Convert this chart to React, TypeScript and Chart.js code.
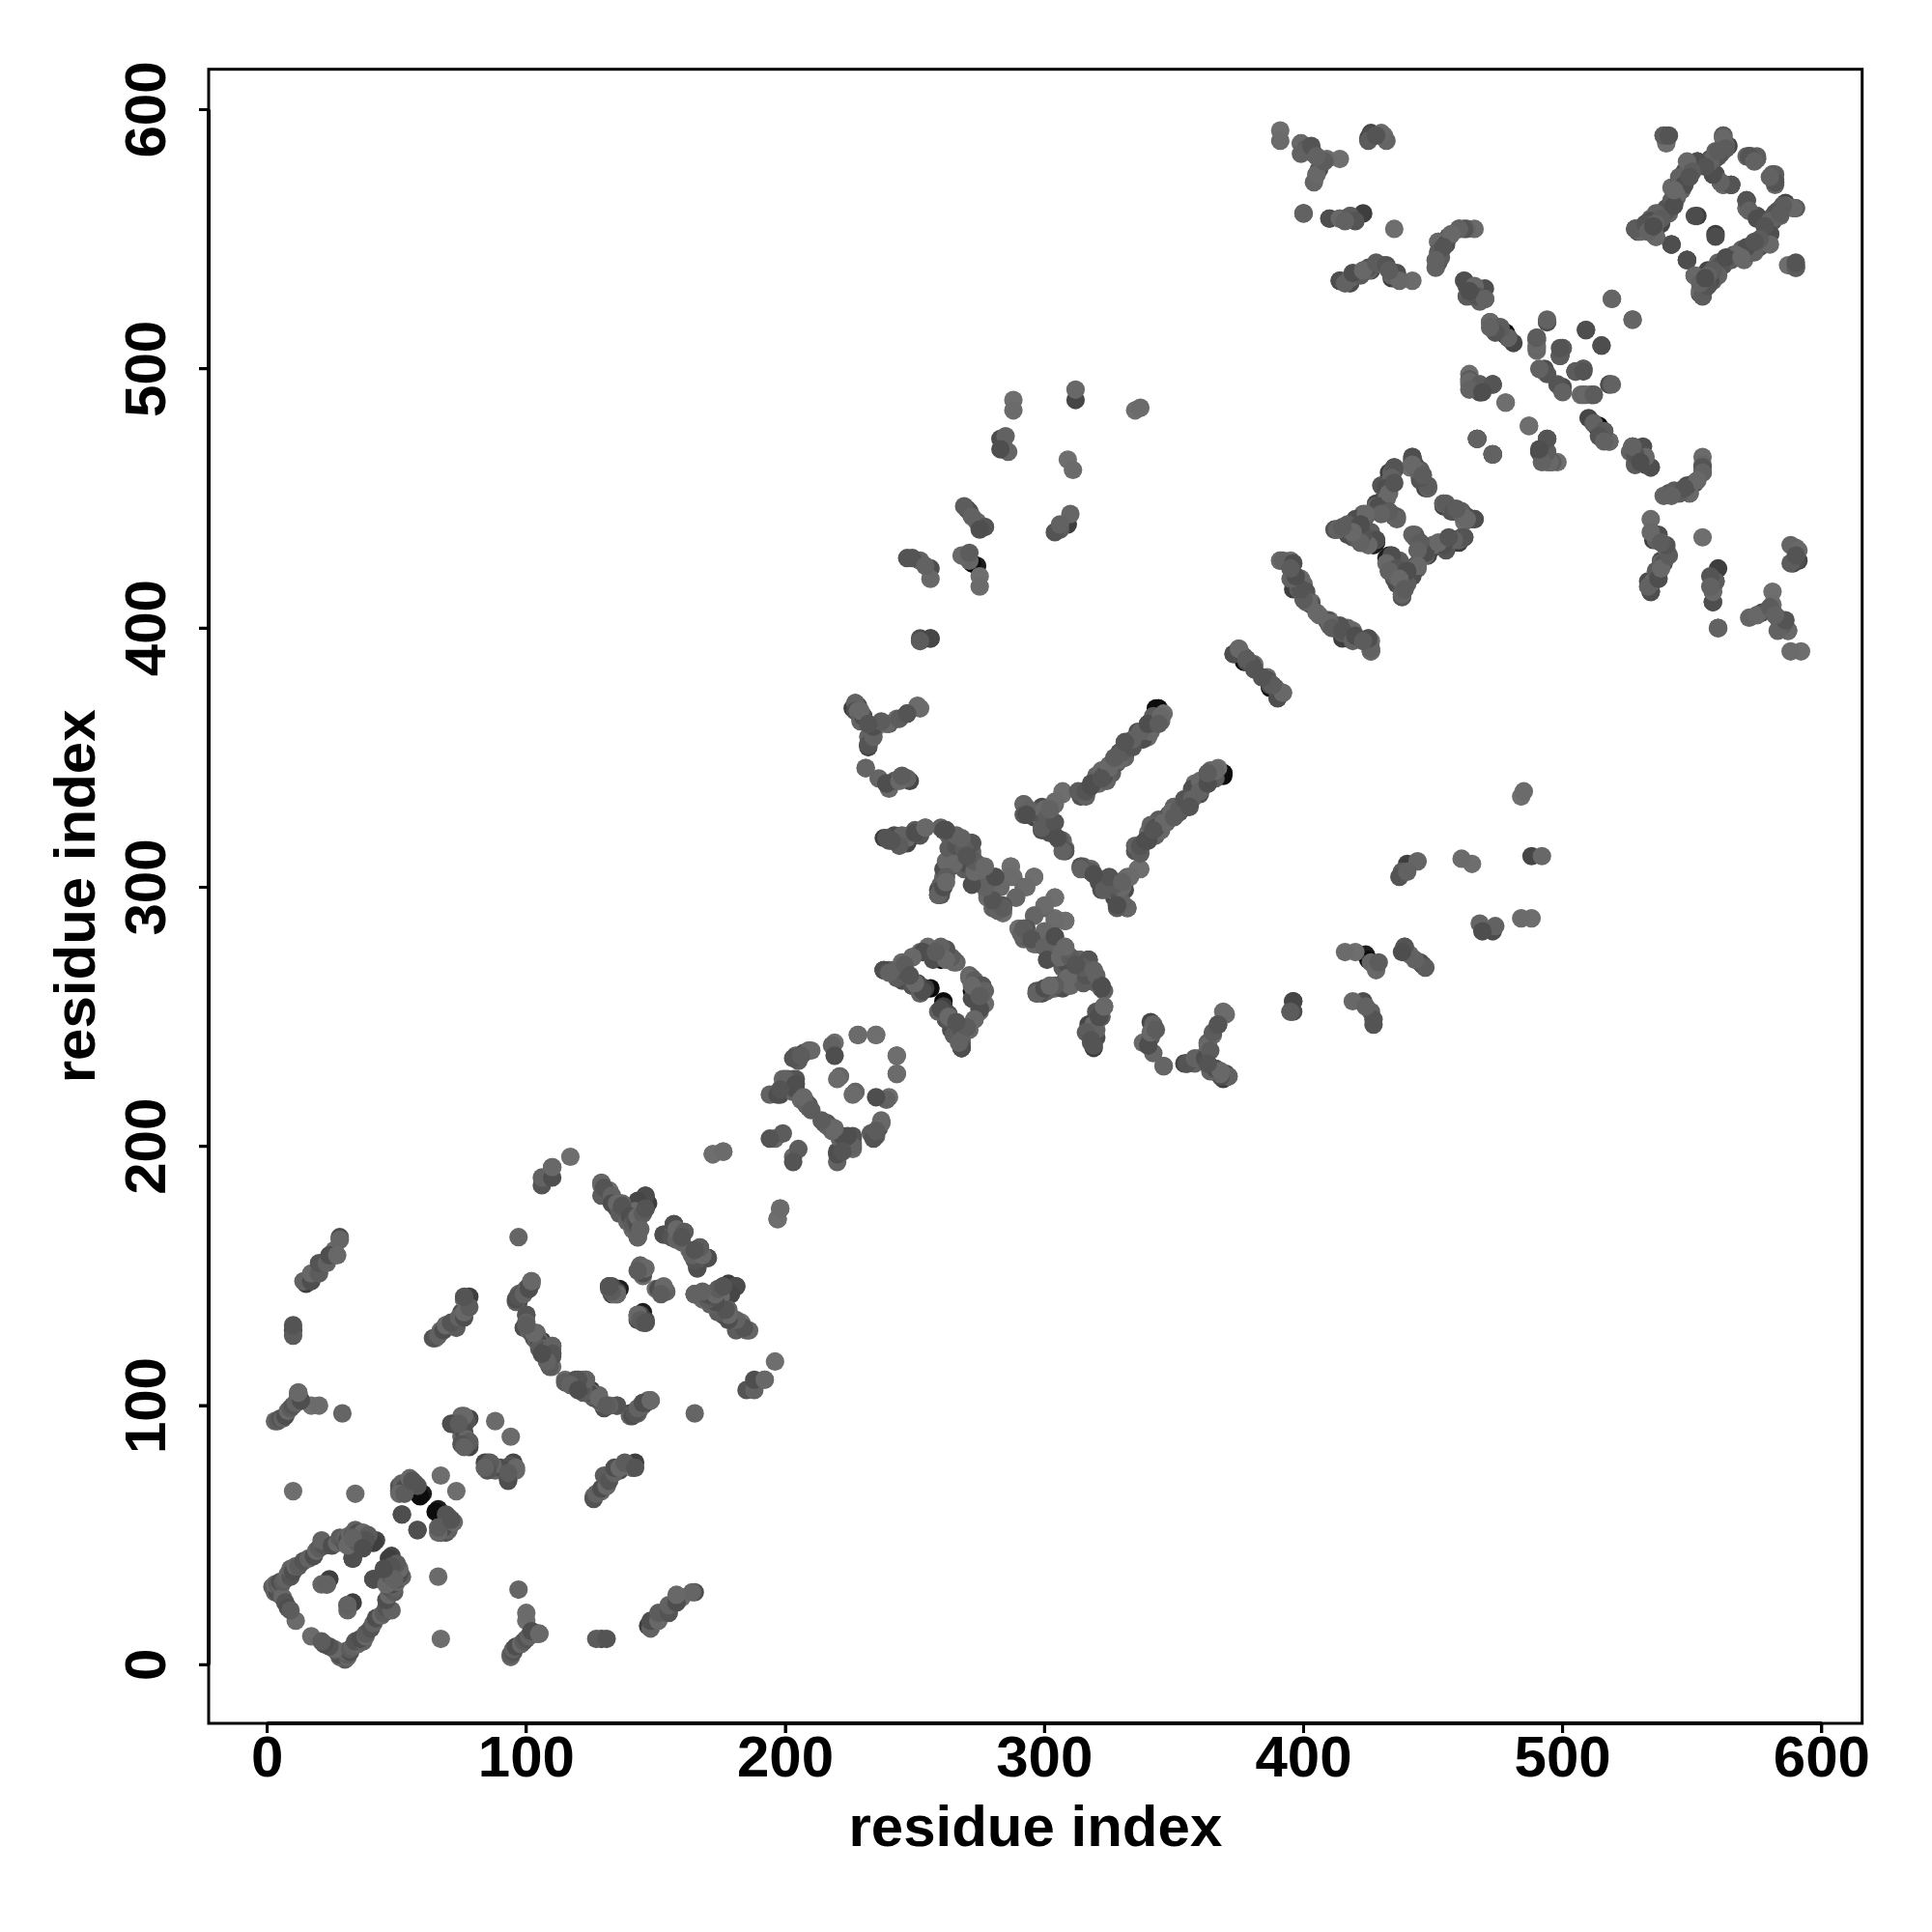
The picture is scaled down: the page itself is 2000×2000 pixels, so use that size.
import React, { useEffect, useRef } from "react";
import { Chart, registerables } from "chart.js";

Chart.register(...registerables);

const tickValues = [0, 100, 200, 300, 400, 500, 600];
const axisTitle = "residue index";

// Contacts: the map is symmetric, each pair is also drawn mirrored.
const midContacts: [number, number][] = [
  [2,30],[3,29],[3,28],[4,28],[3,31],[4,31],[5,27],[5,30],[5,32],[6,26],[6,32],[7,24],[7,33],[8,22],[8,35],[9,21],[9,34],[9,37],[10,36],[11,38],[12,38],[14,40],[16,41],[18,42],[19,44],[20,45],[22,46],[21,48],[25,46],[27,47],[28,49],[30,47],[30,49],[31,48],[32,50],[33,47],[33,50],[34,52],[35,51],[37,51],[39,50],[33,41],[23,31],[41,33],[46,31],[47,35],[48,38],[49,33],[45,37],
  [3,94],[4,94],[5,95],[6,95],[7,96],[8,98],[9,99],[10,100],[11,101],[13,102],[12,105],[10,127],[10,131],
  [14,148],[17,148],[17,151],[20,151],[20,155],[23,155],[24,158],[27,158],
  [51,67],[51,69],[52,70],[53,68],[55,72],[57,70],[58,69],[52,58],[58,52],[51,66],[53,66],[56,71],
  [72,93],[74,92],[75,96],[76,95],[77,94],[75,88],[76,90],[77,87],[78,86],[75,85],[76,84],[71,93],[76,96],[74,93],
  [64,126],[66,127],[68,129],[69,131],[73,130],[71,132],[74,134],[76,134],[76,136],[78,138],[76,142],
  [96,140],[96,141],[97,143],[98,143],[99,144],[100,145],[101,146],[102,147],[97,142],
  [100,135],[100,132],[99,130],[101,129],[102,128],[103,126],[104,125],[105,124],[106,122],[105,122],[107,121],[110,123],[110,119],[109,120],[109,115],[110,120],[108,117],[106,120],[103,128],[100,131],[97,142],[99,143],[101,145],[102,148],
  [132,145],[133,144],[135,143],[132,146],[143,135],[144,133],[146,132],[144,154],[145,151],[146,153],[143,152],
  [106,185],[106,188],[110,188],[110,192],
  [129,181],[130,184],[133,181],[133,178],[135,178],[136,174],[137,177],[139,171],[140,173],[141,168],[141,170],[142,172],[143,165],[143,170],[143,173],[145,174],[146,176],[144,168],
  [153,166],[157,167],[158,165],[156,165],[158,164],[157,170],[158,168],[161,167],[160,165],
  [194,220],[198,220],[199,226],[201,226],[204,226],[203,221],[204,222],[206,218],[208,217],[209,216],[204,235],[207,236],[209,237],[205,233],[203,234],[218,239],[219,235],[196,203],[199,205],[194,203],[200,226],[197,220],[210,237],[206,235],[209,215],[208,216],[204,224],[207,219],[210,214],[198,222],
  [227,371],[227,368],[228,368],[229,365],[230,366],[232,363],[233,362],[237,363],[240,363],[232,355],[232,358],[239,340],[240,338],[242,341],
  [240,318],[243,318],[245,318],[247,319],[250,322],[252,320],[260,323],[261,322],[263,320],[264,319],[265,318],[264,313],[264,308],[261,304],[260,301],[260,297],[261,302],[261,307],[262,310],[263,315],[271,317],[272,314],[274,309],[273,302],[269,307],[266,316],[270,312],[276,301],[278,297],[281,292],[284,293],[282,291],[270,309],[275,305],
  [292,328],[296,329],[299,327],[299,322],[302,322],[306,318],[308,314],[307,314],[302,321],[299,326],[299,323],[297,329],[294,330],[293,328],[300,330],[301,327],[304,325],[302,330],[305,319],
  [300,283],[292,284],[295,280],[300,277],[301,272],[306,273],[310,273],[317,272],[320,266],[322,262],[309,265],[304,262],[299,260],[297,259],[304,281],[308,277],[315,269],[312,270],[319,268],[300,261],[302,262],
  [315,337],[317,338],[320,343],[323,343],[325,347],[327,349],[329,352],[334,355],[338,357],[340,363],[342,366],[314,335],[316,335],[318,340],[322,345],[326,344],[328,348],[331,350],[336,360],[341,360],[337,313],[337,316],[341,324],[343,323],[349,329],[352,330],[354,334],[357,334],[339,318],[346,325],[350,327],[356,331],[360,337],[363,340],[366,345],[363,344],[342,322],
  [238,268],[240,268],[245,271],[249,273],[253,275],[259,276],[261,276],[263,273],[265,272],[249,262],[252,259],[260,253],[263,250],[265,243],[268,245],[268,241],[268,238],[271,265],[273,264],[276,262],[277,260],[275,253],[273,249],[270,246],[266,248],[267,240],[272,257],[272,262],[275,258],
  [319,239],[320,245],[321,250],[323,254],[316,244],[318,241],[342,247],[340,239],[341,244],[343,245],[355,232],[358,234],[362,234],[363,239],[365,244],[367,247],[364,229],[366,230],[368,229],[364,237],[363,232],
  [285,474],[283,469],[312,492],[306,438],[304,437],[306,440],[271,445],[274,441],[269,447],[277,439],[272,443],[275,438],[268,428],[271,429],[247,427],[252,426],[256,423],[256,419],[252,395],[249,427],[254,424],
  [373,390],[376,390],[380,386],[386,380],[388,378],[390,373],[392,375],[378,388],[384,381],
  [392,426],[396,425],[400,417],[398,415],[401,414],[401,410],[403,409],[410,402],[411,400],[415,399],[419,395],[397,420],[406,405],[423,395],
  [412,438],[416,439],[419,435],[420,441],[424,443],[423,435],[428,447],[432,450],[432,453],[434,458],[435,462],[436,443],[417,436],[421,438],[426,437],[430,455],[434,460],[422,433],
  [442,465],[445,461],[445,457],[448,454],[443,463],[446,459],[455,448],[458,445],[461,444],[466,442],[463,442],[459,446],
  [461,435],[458,434],[454,432],[450,432],[447,431],[443,435],[442,436],[447,429],[452,433],[445,433],[456,435],[444,430],
  [434,428],[432,425],[435,420],[438,416],[438,413],[442,420],[444,424],[440,417],[436,423],[433,422],[440,422],[437,419],[439,415],
  [467,473],[473,467],[491,468],[494,464],[496,464],[493,466],
  [512,479],[516,476],[527,470],[528,463],[530,466],[526,468],[531,470],
  [464,495],[468,494],[473,494],[464,492],[469,491],
  [399,587],[401,585],[403,584],[399,583],[406,577],[405,575],[408,580],[403,586],[405,582],[426,590],[430,591],[425,588],[428,590],
  [400,560],[410,558],[414,558],[418,559],[420,557],[416,557],
  [414,534],[418,535],[422,536],[425,539],[416,533],[419,537],[423,538],[428,541],[432,540],[434,536],[436,537],[437,534],[433,538],
  [462,554],[460,554],[456,551],[452,549],[452,545],[452,541],[451,539],[455,548],[457,552],[453,543],[454,547],[451,542],
  [462,534],[466,532],[463,528],[467,528],[470,527],[464,530],[472,518],[476,516],[474,514],[472,516],
  [494,518],[490,511],[500,508],[499,505],[509,515],[515,509],[493,499],[505,499],[508,499],[519,494],[500,493],[509,490],[512,490],[494,498],[500,491],
  [529,553],[530,553],[532,555],[533,556],[534,558],[535,556],[537,560],[538,558],[540,562],[541,560],[543,564],[542,570],[544,566],[545,573],[546,569],[547,576],[549,579],[552,580],[557,581],[559,584],[560,582],[563,586],[562,590],[561,583],[558,580],
  [572,582],[575,581],[582,575],[582,572],[580,574],[559,575],[562,571],[565,571],[571,565],[572,561],[575,558],[589,562],[585,563],[582,560],[580,557],[580,552],[580,548],[584,560],[578,555],[574,545],[571,547],[567,544],[565,542],[561,540],[560,536],[557,534],[555,531],[554,528],[551,536],[548,542],[542,548],[536,551],[558,538],[556,532],[553,533],[563,543],[569,543],[576,550],[574,549],[556,536],[555,535],
  [540,590],[590,539],[590,541],
];

const lightContacts: [number, number][] = [
  [11,17],[21,31],[10,67],[34,66],[29,97],[17,100],[20,100],[12,105],[25,158],[26,160],[28,164],
  [67,73],[88,94],[51,67],[65,126],[67,129],[69,131],[76,141],
  [100,135],[104,125],[110,122],[110,115],[120,110],[123,110],[125,105],[128,104],[145,101],[102,148],[97,165],
  [145,150],[144,153],[152,145],[154,144],[134,143],[146,132],
  [117,196],[110,192],[129,185],[133,181],[172,197],[176,198],[197,172],[198,176],[153,166],[157,170],[161,167],[163,160],[170,157],
  [165,143],[186,129],[183,132],[175,142],[178,137],
  [221,227],[228,243],[235,243],[243,235],[243,228],[227,221],[240,219],[220,226],[237,209],[226,203],
  [252,369],[247,367],[243,365],[231,346],[236,342],[244,342],[254,323],[265,316],[272,313],[279,304],[287,308],[288,304],[296,304],[292,300],[289,296],[278,296],[280,292],
  [304,296],[300,293],[296,289],[308,287],[304,287],[304,281],[290,284],
  [292,332],[304,332],[307,336],[303,331],[307,318],[308,314],[328,293],[332,292],[337,307],[333,304],[315,308],
  [346,367],[340,358],[345,364],[357,337],[355,332],[350,331],[347,325],[340,321],[238,268],[252,275],[260,276],[266,271],[276,262],[277,255],[268,238],[268,244],[370,251],[346,231],
  [288,488],[288,484],[286,468],[309,465],[311,461],[310,444],[335,484],[337,485],[277,439],[275,420],[275,416],[271,426],
  [381,386],[392,375],[391,426],[396,425],[396,420],[403,409],[410,403],[419,399],[423,395],[426,395],[426,391],
  [412,438],[424,443],[434,444],[442,465],[445,461],[466,442],[461,435],[446,431],[438,413],[444,423],[462,441],[435,443],
  [478,487],[487,478],[494,473],[491,468],[498,464],[518,472],[527,470],[528,464],[468,494],[473,494],
  [391,592],[391,588],[399,587],[414,581],[409,581],[404,572],[405,575],[431,590],[432,588],
  [435,554],[442,534],[425,538],[431,540],[466,554],[463,554],[456,551],[452,549],[452,545],
  [462,534],[467,528],[470,527],[472,518],[519,527],[527,519],[490,511],[490,507],[499,505],[500,508],[505,499],[508,490],[512,490],[494,518],
  [540,589],[540,587],[549,579],[552,579],[557,581],[562,590],[559,575],[562,571],[565,571],[571,565],[572,561],[575,558],[571,582],[582,572],[580,552],[574,546],[542,548],[548,542],[536,551],[561,541],[590,539],
];

const darkContacts: [number, number][] = [
  [42,48],[41,47],[33,41],[23,31],[33,24],[3,30],[5,30],[12,104],[13,102],[10,129],[15,147],[28,165],
  [76,141],[78,142],[75,136],[78,95],[76,94],[78,85],[78,84],[77,86],
  [97,140],[109,121],[106,125],[104,127],[127,103],[131,100],
  [135,144],[133,146],[144,134],[145,133],[143,133],
  [136,178],[135,176],[146,181],[146,177],[145,179],[143,165],[141,169],[174,143],[176,146],[178,147],[181,146],[179,143],
  [226,369],[228,370],[232,354],[234,360],[244,318],[247,317],[250,320],[260,299],[259,297],[261,303],[272,317],[273,304],[284,292],[299,331],[296,327],[317,272],[320,263],[322,262],[301,261],[299,259],[334,355],[340,363],[352,329],[355,331],[364,342],
  [245,264],[249,262],[261,254],[263,251],[265,246],[319,238],[320,242],[341,248],[355,232],[371,227],[368,228],[396,256],[396,252],
  [312,488],[309,440],[283,473],[270,428],[270,446],[252,395],[256,396],
  [377,389],[387,378],[399,414],[415,396],[467,473],[473,467],
  [433,458],[435,462],[425,434],[428,434],[434,426],[447,454],[454,448],[458,445],[465,442],[460,433],[450,431],[448,428],
  [400,560],[414,558],[418,559],[423,560],[410,558],[404,583],[414,534],[418,533],[436,536],[434,535],[426,538],[426,591],[425,589],
  [460,554],[463,532],[516,475],[529,466],[510,481],
  [552,559],[559,551],[582,573],[575,581],[589,562],[538,556],[541,561],[560,538],[556,533],[554,528],[533,556],[564,586],[563,585],
];

const blackContacts: [number, number][] = [
  [60,66],[59,65],[136,145],[254,261],[252,261],[261,256],[264,247],[343,369],[344,369],[369,344],[274,424],[272,425],[377,388],[387,377],[512,479],[514,478],[428,433],[272,260],[432,427],[513,478],
];

const midTones = ["#5c5c5c", "#545454", "#626262", "#4e4e4e", "#686868"];
const lightTones = ["#6b6b6b", "#656565", "#6e6e6e"];
const darkTones = ["#464646", "#3e3e3e", "#4c4c4c"];
const blackTones = ["#1c1c1c", "#0c0c0c"];

const mirrored = (pairs: [number, number][]) =>
  pairs.flatMap(([x, y]) => [
    { x, y },
    { x: y, y: x },
  ]);

const FONT = '"Liberation Sans", Arial, sans-serif';

export default function App() {
  const ref = useRef<HTMLCanvasElement>(null);
  useEffect(() => {
    document.body.style.margin = "0";
    const series = (data: [number, number][], tones: string[]) => ({
      data: mirrored(data),
      backgroundColor: (c: any) => tones[Math.floor(c.dataIndex / 2) % tones.length],
      borderWidth: 0,
      pointRadius: 9.6,
      pointHoverRadius: 9.6,
      showLine: false,
    });
    const ticksOf = (s: any) => {
      s.ticks = tickValues.map((value) => ({ value }));
    };
    const frame = {
      id: "frame",
      afterDraw(c: any) {
        const { left, top, right, bottom } = c.chartArea;
        const g = c.ctx;
        g.save();
        g.strokeStyle = "#000";
        g.lineWidth = 3;
        g.strokeRect(left, top, right - left, bottom - top);
        g.beginPath();
        for (const v of tickValues) {
          const px = c.scales.x.getPixelForValue(v);
          const py = c.scales.y.getPixelForValue(v);
          g.moveTo(px, bottom);
          g.lineTo(px, bottom + 10);
          g.moveTo(left, py);
          g.lineTo(left - 10, py);
        }
        g.stroke();
        g.lineWidth = 4;
        const first = tickValues[0];
        const last = tickValues[tickValues.length - 1];
        g.beginPath();
        g.moveTo(c.scales.x.getPixelForValue(first), bottom);
        g.lineTo(c.scales.x.getPixelForValue(last), bottom);
        g.moveTo(left, c.scales.y.getPixelForValue(first));
        g.lineTo(left, c.scales.y.getPixelForValue(last));
        g.stroke();
        g.restore();
      },
    };
    const chart = new Chart(ref.current!, {
      type: "scatter",
      data: {
        datasets: [
          series(midContacts, midTones),
          series(lightContacts, lightTones),
          series(darkContacts, darkTones),
          series(blackContacts, blackTones),
        ],
      },
      plugins: [frame],
      options: {
        animation: false,
        responsive: false,
        devicePixelRatio: 1,
        layout: { padding: { top: 71.7, right: 72.3, left: 0, bottom: 0 } },
        plugins: { legend: { display: false }, tooltip: { enabled: false } },
        scales: {
          x: {
            type: "linear",
            min: -22.6,
            max: 615.6,
            afterBuildTicks: ticksOf,
            afterFit(s: any) {
              s.height = 216;
            },
            grid: { drawOnChartArea: false, drawTicks: true, tickLength: 10, tickWidth: 3, tickColor: "#000" },
            border: { display: false },
            ticks: {
              color: "#000",
              font: { family: FONT, weight: "bold", size: 60 },
              padding: -8,
              maxRotation: 0,
              autoSkip: false,
            },
            title: {
              display: true,
              text: axisTitle,
              color: "#000",
              font: { family: FONT, weight: "bold", size: 60 },
              padding: { top: 0, bottom: 70 },
            },
          },
          y: {
            type: "linear",
            min: -22.6,
            max: 615.6,
            afterBuildTicks: ticksOf,
            afterFit(s: any) {
              s.width = 216;
            },
            grid: { drawOnChartArea: false, drawTicks: true, tickLength: 10, tickWidth: 3, tickColor: "#000" },
            border: { display: false },
            ticks: {
              color: "#000",
              font: { family: FONT, weight: "bold", size: 60 },
              padding: 1,
              minRotation: 90,
              maxRotation: 90,
              crossAlign: "center",
              autoSkip: false,
            },
            title: {
              display: true,
              text: axisTitle,
              color: "#000",
              font: { family: FONT, weight: "bold", size: 60 },
              padding: { top: 45, bottom: 0 },
            },
          },
        },
      },
    } as any);
    return () => chart.destroy();
  }, []);
  return <canvas ref={ref} width={2000} height={2000} style={{ display: "block" }} />;
}
